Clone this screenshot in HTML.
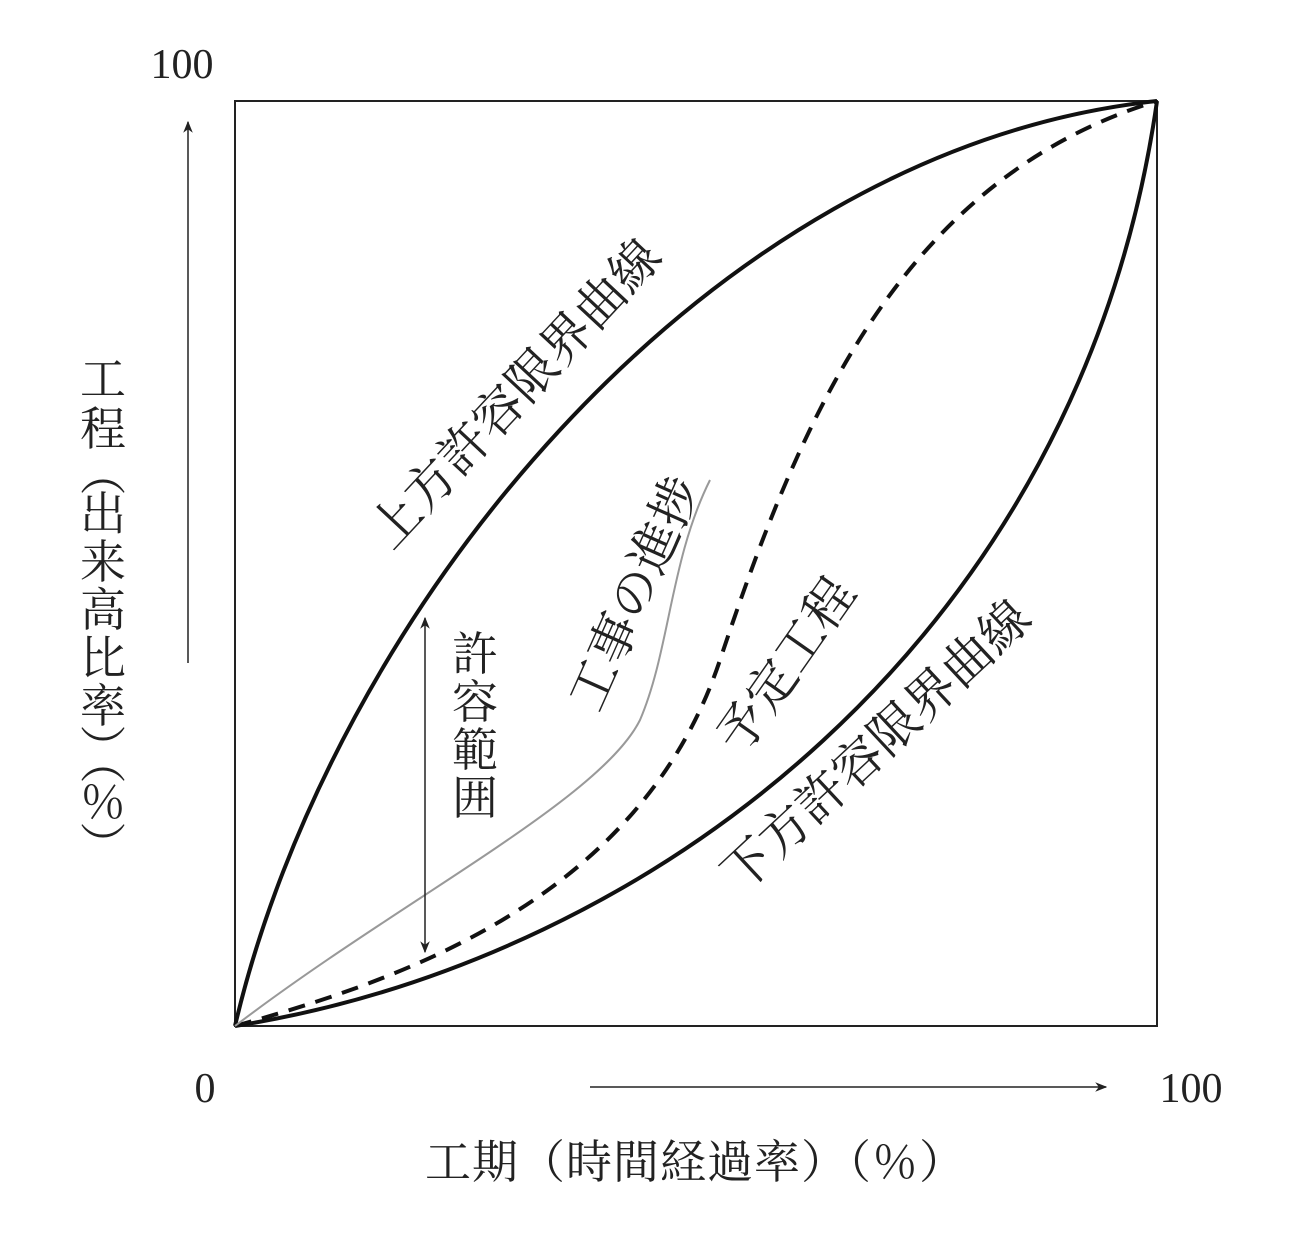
<!DOCTYPE html>
<html><head><meta charset="utf-8"><style>
html,body{margin:0;padding:0;background:#fff}
svg{display:block}
text{font-family:"Liberation Serif","Noto Serif CJK SC","Noto Sans CJK JP",serif;fill:#222}
</style></head><body>
<svg width="1301" height="1234" viewBox="0 0 1301 1234" xmlns="http://www.w3.org/2000/svg">
<defs>
<marker id="ah" viewBox="0 0 10 10" refX="9" refY="5" markerWidth="12" markerHeight="12" orient="auto-start-reverse" markerUnits="userSpaceOnUse">
<path d="M0,1 L10,5 L0,9 L3,5 Z" fill="#222"/></marker>
</defs>
<rect x="235" y="101" width="922" height="925" fill="none" stroke="#222" stroke-width="2"/>
<path d="M235,1026 C330,620 700,150 1157,101" fill="none" stroke="#111" stroke-width="4"/>
<path d="M235,1026 C650,960 1080,640 1157,101" fill="none" stroke="#111" stroke-width="4"/>
<path d="M235,1026 C400,980 640,900 720,660 C800,420 900,180 1157,101" fill="none" stroke="#111" stroke-width="4" stroke-dasharray="17,11"/>
<path d="M235,1026 C400,900 600,800 640,720 C670,650 670,560 710,480" fill="none" stroke="#999" stroke-width="2"/>
<line x1="425" y1="618" x2="425" y2="952" stroke="#222" stroke-width="1.5" marker-start="url(#ah)" marker-end="url(#ah)"/>
<line x1="188" y1="663" x2="188" y2="122" stroke="#222" stroke-width="1.5" marker-end="url(#ah)"/>
<line x1="590" y1="1087" x2="1106" y2="1087" stroke="#222" stroke-width="1.5" marker-end="url(#ah)"/>
<text x="182" y="78" font-size="42" text-anchor="middle">100</text>
<text x="205" y="1102" font-size="42" text-anchor="middle">0</text>
<text x="1191" y="1102" font-size="42" text-anchor="middle">100</text>
<text x="425" y="1178" font-size="46" textLength="540" lengthAdjust="spacing">工期（時間経過率）（％）</text>
<g font-size="46" text-anchor="middle">
<text x="103" y="395">工</text><text x="103" y="445">程</text>
<text x="103" y="490">︵</text><text x="103" y="530">出</text><text x="103" y="578">来</text><text x="103" y="626">高</text><text x="103" y="674">比</text><text x="103" y="722">率</text><text x="103" y="765">︶</text>
<text x="103" y="778">︵</text><text x="103" y="818">％</text><text x="103" y="862">︶</text>
<text x="475" y="670">許</text><text x="475" y="718">容</text><text x="475" y="766">範</text><text x="475" y="814">囲</text>
</g>
<g font-size="50" text-anchor="middle">
<text transform="translate(528,405) rotate(-47)">上方許容限界曲線</text>
<text transform="translate(650,600) rotate(-66)">工事の進捗</text>
<text transform="translate(800,675) rotate(-55)">予定工程</text>
<text transform="translate(888,758) rotate(-43)">下方許容限界曲線</text>
</g>
</svg>
</body></html>
